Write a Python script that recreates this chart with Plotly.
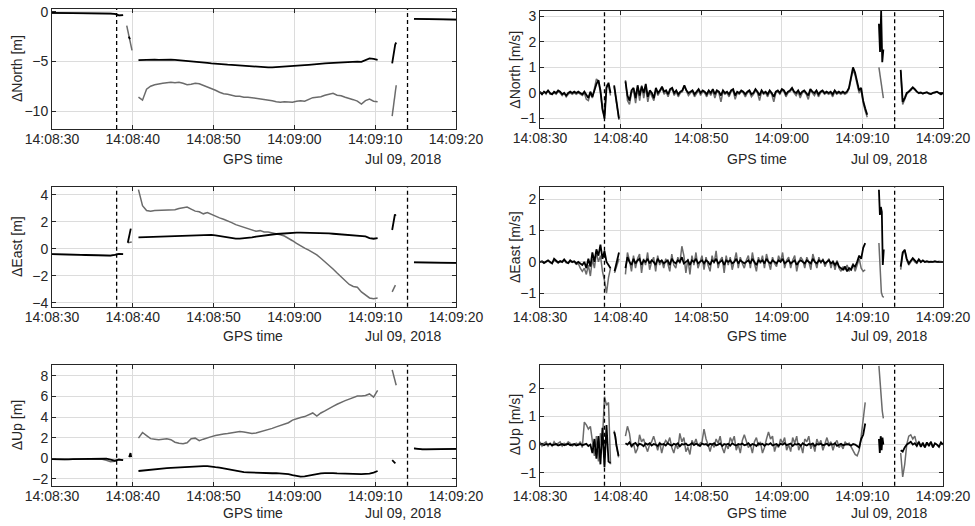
import numpy as np
import pandas as pd
import plotly.graph_objects as go

BASE = pd.Timestamp("2018-07-09 14:08:30")
T_DASH = [8.0, 44.0]  # seconds after 14:08:30 (14:08:38, 14:09:14)

# ---------------- data: (t_start [s after 14:08:30], t_end, values) ----------------
# North position [m]
north_pos_gray = [
    (0.0, 8.8, [-0.12, -0.12, -0.13, -0.13, -0.14, -0.14, -0.15, -0.15, -0.15, -0.16, -0.16, -0.17, -0.17, -0.18, -0.19, -0.22, -0.38, -0.35]),
    (9.25, 9.9, [-1.4, -2.2, -3.0, -3.9]),
    (10.7, 40.3, [-8.6, -8.9, -7.8, -7.5, -7.35, -7.25, -7.2, -7.15, -7.1, -7.15,
                  -7.1, -7.2, -7.35, -7.3, -7.2, -7.25, -7.4, -7.6, -7.75, -7.9,
                  -8.1, -8.25, -8.3, -8.4, -8.5, -8.5, -8.6, -8.6, -8.65, -8.75,
                  -8.8, -8.85, -8.9, -8.95, -9.05, -9.1, -9.05, -9.1, -9.1, -9.0,
                  -8.95, -9.0, -8.8, -8.65, -8.6, -8.55, -8.4, -8.3, -8.2, -8.4,
                  -8.45, -8.6, -8.7, -8.85, -9.0, -9.3, -8.95, -8.8, -9.0, -9.05]),
    (42.1, 42.6, [-10.5, -9.6, -8.7, -7.8, -7.4]),
    (44.8, 50.0, [-0.72, -0.73, -0.74, -0.75, -0.75, -0.76, -0.77, -0.77, -0.78, -0.78, -0.79]),
]
north_pos_black = [
    (0.0, 8.8, [-0.12, -0.12, -0.13, -0.13, -0.14, -0.14, -0.15, -0.15, -0.15, -0.16, -0.16, -0.17, -0.17, -0.18, -0.19, -0.22, -0.38, -0.35]),
    (9.5, 9.65, [-2.5, -2.75]),
    (10.7, 40.3, [-4.88, -4.85, -4.85, -4.83, -4.82, -4.85, -4.83, -4.8, -4.82, -4.85,
                  -4.88, -4.92, -4.95, -4.98, -5.0, -5.05, -5.1, -5.15, -5.2, -5.25,
                  -5.28, -5.3, -5.33, -5.35, -5.38, -5.4, -5.45, -5.5, -5.52, -5.55,
                  -5.57, -5.58, -5.6, -5.6, -5.58, -5.55, -5.55, -5.52, -5.5, -5.47,
                  -5.42, -5.38, -5.35, -5.3, -5.27, -5.25, -5.2, -5.18, -5.15, -5.12,
                  -5.1, -5.08, -5.05, -5.05, -5.03, -5.05, -4.85, -4.7, -4.75, -4.85]),
    (42.1, 42.6, [-5.2, -4.6, -3.8, -3.3, -3.1]),
    (44.8, 50.0, [-0.72, -0.73, -0.74, -0.75, -0.75, -0.76, -0.77, -0.77, -0.78, -0.78, -0.79]),
]

# East position [m]
east_pos_gray = [
    (0.0, 8.8, [-0.4, -0.4, -0.41, -0.42, -0.42, -0.43, -0.44, -0.45, -0.46, -0.47, -0.48, -0.5, -0.5, -0.52, -0.5, -0.45, -0.38, -0.4]),
    (9.38, 9.87, [0.45, 0.47, 0.5]),
    (10.7, 40.3, [4.4, 3.2, 2.85, 2.8, 2.85, 2.85, 2.9, 2.9, 2.85, 2.9,
                  3.0, 3.05, 3.1, 2.95, 2.8, 2.75, 2.6, 2.7, 2.55, 2.4,
                  2.3, 2.2, 2.1, 1.95, 1.8, 1.7, 1.55, 1.45, 1.35, 1.3,
                  1.35, 1.25, 1.25, 1.2, 1.1, 1.05, 0.95, 0.8, 0.6, 0.4,
                  0.2, 0.05, -0.1, -0.25, -0.45, -0.7, -0.95, -1.25, -1.5, -1.8,
                  -2.1, -2.4, -2.65, -2.8, -2.85, -3.2, -3.45, -3.65, -3.7, -3.65]),
    (42.1, 42.5, [-3.2, -3.0, -2.8, -2.7]),
    (44.8, 50.0, [-1.0, -1.0, -1.01, -1.02, -1.02, -1.03, -1.03, -1.04, -1.04, -1.05, -1.05]),
]
east_pos_black = [
    (0.0, 8.8, [-0.4, -0.4, -0.41, -0.42, -0.42, -0.43, -0.44, -0.45, -0.46, -0.47, -0.48, -0.5, -0.5, -0.52, -0.5, -0.45, -0.38, -0.4]),
    (9.38, 9.75, [0.45, 0.8, 1.15, 1.5]),
    (10.7, 40.3, [0.85, 0.86, 0.87, 0.88, 0.88, 0.9, 0.9, 0.92, 0.92, 0.93,
                  0.95, 0.97, 0.98, 1.0, 1.02, 1.03, 1.05, 1.05, 1.03, 1.0,
                  0.95, 0.88, 0.82, 0.78, 0.76, 0.75, 0.77, 0.8, 0.85, 0.9,
                  0.95, 1.0, 1.05, 1.08, 1.1, 1.12, 1.15, 1.17, 1.18, 1.2,
                  1.2, 1.2, 1.2, 1.18, 1.2, 1.18, 1.15, 1.15, 1.12, 1.1,
                  1.08, 1.05, 1.05, 1.0, 0.98, 0.95, 0.92, 0.8, 0.75, 0.8]),
    (42.1, 42.55, [1.4, 1.8, 2.3, 2.55, 2.45]),
    (44.8, 50.0, [-1.0, -1.0, -1.01, -1.02, -1.02, -1.03, -1.03, -1.04, -1.04, -1.05, -1.05]),
]

# Up position [m]
up_pos_gray = [
    (0.0, 8.8, [-0.1, -0.13, -0.12, -0.12, -0.1, -0.1, -0.08, -0.08, -0.07, -0.05, -0.03, -0.05, -0.1, -0.2, -0.35, -0.3, -0.1, -0.2]),
    (10.7, 40.3, [1.95, 2.5, 2.2, 1.9, 1.85, 1.8, 1.85, 1.9, 1.8, 1.55,
                  1.45, 1.4, 1.5, 1.9, 1.95, 1.7, 1.85, 2.0, 2.1, 2.2,
                  2.3, 2.35, 2.4, 2.45, 2.55, 2.6, 2.55, 2.5, 2.4, 2.45,
                  2.55, 2.65, 2.8, 2.9, 3.05, 3.2, 3.3, 3.45, 3.7, 3.85,
                  3.95, 4.05, 4.25, 4.4, 4.1, 4.4, 4.6, 4.85, 5.05, 5.25,
                  5.45, 5.6, 5.75, 5.9, 6.05, 6.05, 6.1, 6.25, 5.95, 6.6]),
    (42.1, 42.6, [8.6, 8.2, 7.8, 7.4, 7.1]),
    (44.8, 50.0, [0.95, 0.87, 0.86, 0.86, 0.87, 0.87, 0.88, 0.88, 0.89, 0.9, 0.9]),
]
up_pos_black = [
    (0.0, 8.8, [-0.1, -0.12, -0.13, -0.12, -0.11, -0.1, -0.1, -0.09, -0.08, -0.07, -0.05, -0.05, -0.04, -0.05, -0.15, -0.25, -0.15, -0.2]),
    (9.55, 9.8, [0.1, 0.3, 0.5, 0.1]),
    (10.7, 40.3, [-1.25, -1.2, -1.15, -1.1, -1.05, -1.02, -1.0, -0.97, -0.95, -0.92,
                  -0.9, -0.87, -0.85, -0.83, -0.8, -0.78, -0.77, -0.78, -0.8, -0.88,
                  -0.92, -1.0, -1.08, -1.17, -1.25, -1.32, -1.36, -1.38, -1.4, -1.42,
                  -1.45, -1.47, -1.48, -1.47, -1.45, -1.47, -1.5, -1.55, -1.65, -1.75,
                  -1.8, -1.78, -1.7, -1.6, -1.55, -1.48, -1.45, -1.42, -1.45, -1.48,
                  -1.5, -1.5, -1.48, -1.5, -1.52, -1.55, -1.52, -1.5, -1.4, -1.25]),
    (42.1, 42.5, [-0.2, -0.3, -0.45, -0.5]),
    (44.8, 50.0, [0.95, 0.87, 0.86, 0.86, 0.87, 0.87, 0.88, 0.88, 0.89, 0.9, 0.9]),
]

# North velocity [m/s]
north_vel_gray = [
    (0.0, 8.75, [0.0, -0.05, 0.05, -0.05, 0.1, -0.05, -0.05, 0.0, -0.05, 0.05, 0.0, -0.1, 0.0, -0.15, -0.05, 0.0, -0.05, 0.0,
                 -0.05, 0.0, -0.05, -0.1, 0.0, -0.25, -0.3, 0.0, -0.2, 0.2, 0.55, 0.45, 0.0, -0.7, -0.9, 0.3, 0.3, -0.1]),
    (9.2, 9.8, [0.25, -0.05, -0.45, -0.75, -1.05]),
    (10.6, 40.6, [0.5, -0.3, -0.45, 0.0, 0.1, -0.4, 0.2, -0.3, 0.3, -0.2, 0.25, -0.35, 0.05, -0.1, -0.3, 0.15, -0.1, 0.05, 0.2, -0.05,
                  0.05, -0.15, 0.1, 0.15, -0.1, 0.05, -0.15, 0.0, 0.05, 0.25, 0.05, -0.1, 0.0, 0.05, -0.15, 0.0, 0.1, -0.1, 0.05, 0.0,
                  -0.15, 0.05, -0.1, 0.1, -0.2, 0.05, 0.0, -0.35, 0.05, -0.05, 0.0, -0.15, 0.05, 0.1, -0.25, 0.0, -0.05, 0.05, 0.0, -0.15,
                  0.0, 0.05, -0.15, -0.05, 0.1, 0.0, -0.3, 0.05, -0.05, 0.0, -0.15, 0.05, -0.05, -0.35, 0.0, 0.05, -0.05, 0.1, 0.05, -0.15,
                  0.0, 0.05, 0.15, 0.0, -0.1, 0.05, -0.2, 0.0, 0.05, -0.05, -0.25, 0.1, 0.0, -0.1, 0.05, -0.15, 0.0, 0.05, -0.05, 0.0,
                  -0.05, 0.0, -0.15, 0.05, -0.05, 0.0, -0.05, 0.0, -0.05, 0.0, 0.15, 0.5, 0.9, 0.7, 0.3, 0.0, 0.1, -0.4, -0.7, -0.95]),
    (42.05, 42.6, [1.0, 0.6, 0.2, -0.2]),
    (44.75, 50.0, [0.85, -0.45, -0.25, -0.05, 0.05, 0.1, 0.2, 0.12, 0.05, -0.02, 0.0, -0.03, 0.0, 0.02, -0.03, -0.05, 0.0, 0.0, 0.04, 0.0, -0.06, 0.0]),
]
north_vel_black = [
    (0.0, 8.75, [0.05, -0.05, 0.05, 0.0, 0.1, 0.0, -0.05, 0.05, 0.0, 0.1, 0.05, -0.05, 0.0, -0.1, 0.0, 0.05, 0.0, 0.05,
                 0.0, 0.05, 0.0, -0.05, 0.05, -0.1, -0.2, 0.05, -0.15, 0.1, 0.35, 0.5, 0.1, -0.6, -1.0, 0.2, 0.4, 0.0]),
    (9.2, 9.8, [0.3, 0.0, -0.4, -0.7, -1.0]),
    (10.6, 40.6, [0.45, -0.1, -0.3, 0.1, 0.2, -0.2, 0.3, -0.1, 0.25, 0.0, 0.35, -0.15, 0.1, 0.0, -0.2, 0.2, 0.0, 0.1, 0.25, 0.05,
                  0.1, -0.05, 0.15, 0.2, 0.0, 0.1, -0.05, 0.05, 0.1, 0.3, 0.1, 0.0, 0.05, 0.1, -0.05, 0.05, 0.15, 0.0, 0.1, 0.05,
                  -0.05, 0.1, 0.0, 0.15, -0.05, 0.1, 0.05, -0.1, 0.1, 0.0, 0.05, -0.05, 0.1, 0.15, -0.1, 0.05, 0.0, 0.1, 0.05, -0.05,
                  0.05, 0.1, -0.05, 0.0, 0.15, 0.05, -0.1, 0.1, 0.0, 0.05, -0.05, 0.1, 0.0, -0.15, 0.05, 0.1, 0.0, 0.15, 0.1, -0.05,
                  0.05, 0.1, 0.2, 0.05, 0.0, 0.1, -0.05, 0.05, 0.1, 0.0, -0.1, 0.15, 0.05, 0.0, 0.1, -0.05, 0.05, 0.1, 0.0, 0.05,
                  0.0, 0.05, -0.05, 0.1, 0.0, 0.05, 0.0, 0.05, 0.0, 0.05, 0.2, 0.6, 1.0, 0.8, 0.4, 0.1, 0.2, -0.3, -0.6, -0.85]),
    (42.05, 42.6, [2.7, 1.6, 3.2, 1.2, 1.7]),
    (44.75, 50.0, [0.9, -0.35, -0.2, 0.0, 0.05, 0.15, 0.22, 0.15, 0.05, 0.0, 0.02, -0.02, 0.0, 0.03, -0.02, -0.04, 0.0, 0.02, 0.05, 0.0, -0.05, 0.0]),
]

# East velocity [m/s]
east_vel_gray = [
    (0.0, 8.75, [0.0, 0.0, -0.05, 0.0, 0.03, -0.02, -0.05, 0.05, 0.0, -0.03, 0.0, -0.02, 0.05, -0.03, -0.05, 0.02, -0.02, 0.0,
                 -0.08, -0.05, -0.2, -0.3, -0.2, -0.4, -0.1, -0.45, 0.1, -0.2, 0.3, 0.0, 0.2, -0.3, -0.6, -1.0, -0.5, -0.2]),
    (9.25, 9.8, [-0.35, -0.2, 0.0, 0.1]),
    (10.6, 40.35, [-0.4, 0.3, 0.05, -0.3, 0.2, -0.2, 0.1, 0.25, -0.35, 0.1, -0.1, 0.3, -0.25, 0.0, 0.15, -0.3, 0.2, -0.1, 0.05, -0.2,
                   0.1, -0.05, -0.3, 0.25, -0.1, -0.2, 0.15, -0.05, 0.5, 0.2, -0.35, 0.1, -0.4, 0.2, -0.1, 0.3, -0.2, 0.0, 0.2, -0.25,
                   0.15, -0.1, -0.3, 0.2, -0.05, 0.35, -0.2, 0.05, 0.15, -0.35, 0.2, -0.1, 0.15, -0.25, 0.05, 0.3, -0.2, 0.15, -0.05, -0.2,
                   0.05, 0.2, -0.2, 0.3, -0.05, -0.3, 0.15, -0.05, 0.2, -0.2, 0.25, 0.0, -0.25, 0.15, -0.05, -0.15, 0.2, 0.0, 0.3, -0.2,
                   0.05, 0.15, -0.2, 0.05, 0.2, -0.3, 0.0, 0.15, 0.05, -0.2, 0.15, 0.0, -0.25, 0.25, 0.0, -0.2, 0.15, -0.05, 0.1, -0.15,
                   0.0, 0.1, -0.2, 0.05, -0.25, 0.05, -0.2, -0.3, -0.15, -0.25, -0.1, -0.3, -0.2, -0.05, -0.3, -0.1, 0.1, -0.2, -0.3, -0.25]),
    (42.05, 42.65, [0.6, -0.4, -0.97, -1.1, -1.13]),
    (44.75, 50.0, [-0.25, 0.25, 0.4, 0.05, -0.1, 0.0, 0.1, 0.0, -0.05, 0.06, -0.02, 0.03, 0.0, 0.0, -0.02, 0.0, 0.0, 0.01, 0.0, 0.0, 0.0, 0.0]),
]
east_vel_black = [
    (0.0, 8.75, [0.0, 0.02, -0.03, 0.0, 0.05, 0.0, -0.05, 0.1, 0.05, -0.02, 0.03, 0.0, 0.08, 0.0, -0.04, 0.05, 0.0, 0.02,
                 -0.05, 0.0, -0.05, -0.1, 0.0, -0.2, 0.1, -0.15, 0.3, 0.0, 0.4, 0.2, 0.55, 0.1, 0.35, 0.0, -0.1, -0.2]),
    (9.25, 9.8, [-0.3, -0.1, 0.1, 0.3]),
    (10.6, 40.35, [-0.2, 0.15, 0.0, -0.1, 0.1, -0.05, 0.05, 0.1, -0.1, 0.05, 0.0, 0.1, -0.05, 0.05, 0.0, -0.1, 0.1, 0.0, 0.05, -0.05,
                   0.0, 0.05, -0.1, 0.1, 0.0, -0.05, 0.05, 0.0, 0.15, -0.05, 0.0, 0.05, -0.1, 0.05, 0.0, 0.1, -0.05, 0.0, 0.05, -0.05,
                   0.05, 0.0, -0.1, 0.05, 0.0, 0.1, -0.05, 0.0, 0.05, -0.1, 0.05, 0.0, 0.05, -0.05, 0.0, 0.1, -0.05, 0.05, 0.0, -0.05,
                   0.0, 0.05, -0.05, 0.1, 0.0, -0.1, 0.05, 0.0, 0.05, -0.05, 0.1, 0.0, -0.05, 0.05, 0.0, -0.05, 0.05, 0.0, 0.1, -0.05,
                   0.0, 0.05, -0.05, 0.0, 0.05, -0.1, 0.0, 0.05, 0.0, -0.05, 0.05, 0.0, -0.05, 0.1, 0.0, -0.05, 0.05, 0.0, 0.05, -0.05,
                   0.0, 0.05, -0.05, 0.0, -0.1, 0.0, -0.15, -0.2, -0.25, -0.15, -0.3, -0.2, -0.25, -0.1, -0.15, 0.0, 0.2, 0.1, 0.45, 0.6]),
    (42.05, 42.65, [2.3, 1.5, 1.75, 1.6, -0.1, 0.4]),
    (44.75, 50.0, [-0.15, 0.3, 0.38, 0.1, -0.05, 0.05, 0.12, 0.05, -0.02, 0.08, 0.0, 0.05, 0.0, 0.02, 0.0, 0.01, 0.0, 0.02, 0.0, 0.01, 0.0, 0.0]),
]

# Up velocity [m/s]
up_vel_gray = [
    (0.0, 8.75, [0.1, -0.05, 0.05, 0.1, -0.05, 0.05, -0.05, 0.1, 0.0, 0.05, 0.1, -0.05, 0.05, 0.0, 0.1, 0.05, -0.05, 0.0,
                 0.05, 0.0, 0.1, -0.1, 0.8, 0.7, 0.55, 0.65, 0.1, -0.4, 0.3, -0.6, 0.4, 0.2, 1.7, 1.4, 1.5, -0.7]),
    (9.2, 9.75, [0.5, 0.3, -0.05, -0.3, -0.45]),
    (10.6, 40.35, [0.3, 0.65, 0.4, -0.1, 0.05, -0.3, -0.15, 0.35, 0.1, 0.2, -0.05, -0.25, 0.0, 0.1, 0.3, 0.05, -0.2, 0.1, -0.3, 0.0,
                   0.15, 0.05, 0.25, -0.1, -0.3, 0.0, -0.15, 0.4, 0.1, 0.25, -0.25, -0.1, -0.35, 0.15, 0.0, 0.2, -0.05, 0.05, 0.1, 0.55,
                   0.2, 0.0, -0.25, 0.05, -0.1, 0.2, 0.05, 0.3, -0.1, -0.3, 0.0, -0.15, 0.25, 0.1, 0.3, -0.2, 0.0, -0.3, 0.15, 0.35,
                   0.1, -0.1, 0.0, -0.3, 0.1, 0.25, -0.05, 0.1, -0.3, -0.1, 0.2, 0.45, 0.2, 0.3, -0.25, 0.0, -0.1, 0.2, 0.05, 0.25,
                   -0.2, 0.0, -0.25, 0.25, 0.05, 0.3, -0.2, 0.0, -0.3, 0.2, 0.1, 0.3, -0.15, 0.05, -0.25, 0.2, 0.0, 0.15, -0.2, 0.05,
                   0.25, 0.0, 0.1, -0.2, 0.05, 0.15, -0.1, 0.0, -0.15, 0.1, 0.0, 0.05, -0.1, -0.25, -0.35, -0.4, -0.2, 0.3, 1.0, 1.5]),
    (42.05, 42.6, [2.8, 2.2, 1.6, 1.2, 0.93]),
    (44.75, 50.0, [-0.3, -1.15, -0.7, 0.0, 0.3, 0.35, 0.2, 0.3, 0.0, 0.1, -0.05, 0.08, -0.1, 0.05, 0.0, 0.1, -0.1, 0.03, 0.0, -0.05, 0.05, 0.0]),
]
up_vel_black = [
    (0.0, 8.75, [0.0, 0.03, -0.02, 0.02, 0.0, 0.03, -0.02, 0.0, 0.02, -0.03, 0.0, 0.02, -0.02, 0.0, 0.03, -0.02, 0.0, 0.02,
                 -0.03, 0.0, 0.02, -0.02, 0.0, 0.03, -0.05, 0.0, -0.3, 0.2, -0.5, 0.3, -0.7, 0.6, -0.8, 0.7, -0.6, -0.65]),
    (9.2, 9.75, [0.45, 0.3, 0.0, -0.2, -0.4]),
    (10.6, 40.35, [0.05, 0.0, 0.08, -0.05, 0.02, 0.06, -0.04, 0.03, 0.0, -0.06, 0.04, 0.0, 0.05, -0.03, 0.02, 0.0, -0.05, 0.04, 0.0, 0.02,
                   -0.03, 0.05, 0.0, -0.04, 0.03, 0.0, 0.05, -0.06, 0.02, 0.0, 0.04, -0.03, 0.0, 0.05, -0.02, 0.03, 0.0, -0.05, 0.04, 0.0,
                   0.02, -0.04, 0.03, 0.0, 0.05, -0.03, 0.0, 0.04, -0.05, 0.02, 0.0, 0.03, -0.04, 0.05, 0.0, -0.03, 0.02, 0.0, 0.04, -0.02,
                   0.0, 0.05, -0.03, 0.02, 0.0, -0.05, 0.04, 0.0, 0.03, -0.04, 0.02, 0.0, 0.05, -0.03, 0.0, 0.02, -0.04, 0.03, 0.0, 0.05,
                   -0.02, 0.0, 0.04, -0.05, 0.02, 0.0, 0.03, -0.04, 0.05, 0.0, -0.03, 0.02, 0.0, 0.04, -0.05, 0.02, 0.0, 0.03, -0.02, 0.0,
                   0.04, -0.03, 0.02, 0.0, 0.05, -0.04, 0.0, 0.03, -0.02, 0.0, 0.02, 0.0, -0.03, 0.02, 0.0, -0.05, -0.1, 0.2, 0.35, 0.75]),
    (42.05, 42.6, [0.2, -0.3, 0.3, -0.2, 0.25, 0.0]),
    (44.75, 50.0, [-0.2, -0.25, -0.1, 0.0, 0.05, 0.1, 0.0, 0.05, -0.05, 0.1, -0.08, 0.05, -0.1, 0.08, -0.05, 0.1, -0.1, 0.05, 0.0, -0.08, 0.08, 0.0]),
]

y_titles = ["\u0394North [m]", "\u0394North [m/s]", "\u0394East [m]", "\u0394East [m/s]", "\u0394Up [m]", "\u0394Up [m/s]"]
y_ranges = [[-11.8, 0.27], [-1.38, 3.2], [-4.3, 4.57], [-1.43, 2.38], [-2.68, 9.07], [-1.46, 2.83]]
y_dticks = [5, 1, 2, 1, 2, 1]
panels = [
    (north_pos_gray, north_pos_black), (north_vel_gray, north_vel_black),
    (east_pos_gray, east_pos_black), (east_vel_gray, east_vel_black),
    (up_pos_gray, up_pos_black), (up_vel_gray, up_vel_black),
]

# ---------------- layout geometry (pixels of a 975 x 526 canvas) ----------------
W, H = 975, 526
col_px = [(52, 456), (540, 943)]
row_px = [[(9, 129), (11, 128.3)], [(187.3, 306.7), (187.3, 306.7)], [(365, 485.7), (365, 485.7)]]


def seg_xy(segs):
    xs, ys = [], []
    for t0, t1, vals in segs:
        tt = BASE + pd.to_timedelta(np.linspace(t0, t1, len(vals)), unit="s")
        xs += [t.strftime("%Y-%m-%d %H:%M:%S.%f") for t in tt] + [None]
        ys += list(vals) + [None]
    return xs, ys


fig = go.Figure()
FONT = "Liberation Sans, Arial, sans-serif"
AX = "#262626"
x_range = [BASE.strftime("%Y-%m-%d %H:%M:%S"), (BASE + pd.Timedelta(seconds=50)).strftime("%Y-%m-%d %H:%M:%S")]
tick_ts = [BASE + pd.Timedelta(seconds=s) for s in range(0, 51, 10)]
tickvals = [t.strftime("%Y-%m-%d %H:%M:%S") for t in tick_ts]
ticktext = [t.strftime("%H:%M:%S") for t in tick_ts]

annotations = []
shapes = []
for i, (gray, black) in enumerate(panels):
    r, c = divmod(i, 2)
    xa = "x" if i == 0 else f"x{i+1}"
    ya = "y" if i == 0 else f"y{i+1}"
    for segs, col, w in [(gray, "#6b6b6b", 1.5), (black, "#000000", 1.8)]:
        xs, ys = seg_xy(segs)
        fig.add_trace(go.Scatter(x=xs, y=ys, mode="lines", line=dict(color=col, width=w),
                                 xaxis=xa, yaxis=ya, showlegend=False, connectgaps=False,
                                 hoverinfo="skip"))
    x0p, x1p = col_px[c]
    y0p, y1p = row_px[r][c]
    common = dict(showline=True, mirror="ticks", linecolor=AX, linewidth=1,
                  ticks="inside", ticklen=4, tickcolor=AX, tickwidth=1,
                  showgrid=True, gridcolor="#dcdcdc", gridwidth=1, zeroline=False,
                  automargin=False,
                  tickfont=dict(family=FONT, size=14, color=AX))
    fig.layout[("xaxis" if i == 0 else f"xaxis{i+1}")] = dict(
        domain=[x0p / W, x1p / W], anchor=ya, type="date", range=x_range,
        tickmode="array", tickvals=tickvals, ticktext=ticktext,
        ticklabelstandoff=-3, **common)
    fig.layout[("yaxis" if i == 0 else f"yaxis{i+1}")] = dict(
        domain=[1 - y1p / H, 1 - y0p / H], anchor=xa, range=y_ranges[i],
        dtick=y_dticks[i], tick0=0, **common)
    for td in T_DASH:
        tdt = (BASE + pd.Timedelta(seconds=td)).strftime("%Y-%m-%d %H:%M:%S")
        shapes.append(dict(type="line", xref=xa, yref=f"{ya} domain", x0=tdt, x1=tdt, y0=0, y1=1,
                           line=dict(color="#000000", width=1.3, dash="4px,3px")))
    lab_x = 17 if c == 0 else 515
    annotations.append(dict(text=y_titles[i], x=lab_x / W, y=1 - (y0p + y1p) / 2 / H,
                            xref="paper", yref="paper", textangle=-90, showarrow=False,
                            xanchor="center", yanchor="middle",
                            font=dict(family=FONT, size=14, color=AX)))
    gy = [159, 336, 513][r]
    gps_x = 253 if c == 0 else 757
    date_x = 403 if c == 0 else 889
    annotations.append(dict(text="GPS time", x=gps_x / W, y=1 - gy / H, xref="paper", yref="paper",
                            showarrow=False, xanchor="center", yanchor="middle",
                            font=dict(family=FONT, size=14, color=AX)))
    annotations.append(dict(text="Jul 09, 2018", x=date_x / W, y=1 - gy / H, xref="paper", yref="paper",
                            showarrow=False, xanchor="center", yanchor="middle",
                            font=dict(family=FONT, size=14, color=AX)))

fig.update_layout(width=W, height=H, margin=dict(l=0, r=0, t=0, b=0, pad=0, autoexpand=False),
                  paper_bgcolor="white", plot_bgcolor="white",
                  annotations=annotations, shapes=shapes, showlegend=False)
fig.write_html("out.html")
